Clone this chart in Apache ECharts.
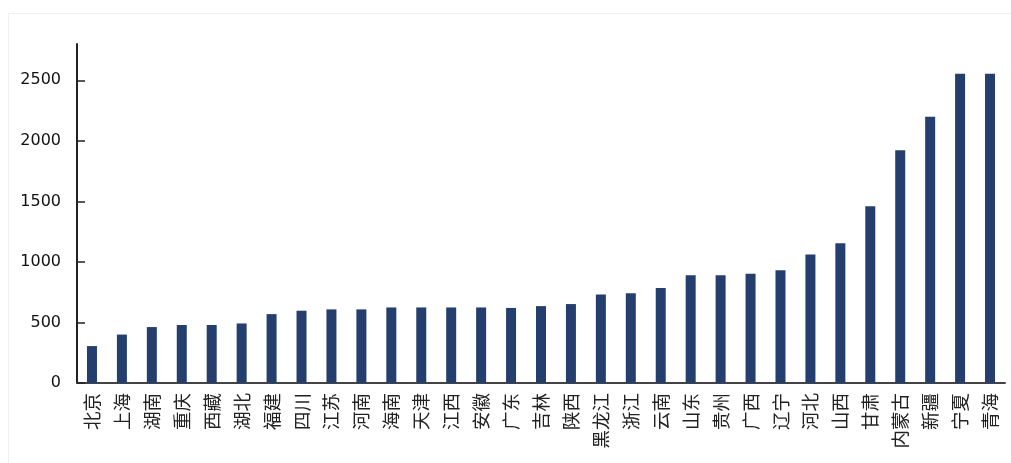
<!DOCTYPE html>
<html>
<head>
<meta charset="utf-8">
<script src="https://cdn.jsdelivr.net/npm/echarts@6/dist/echarts.min.js"></script>
<style>
html,body{margin:0;padding:0;background:#fff;}
#c{width:1011px;height:463px;}
</style>
</head>
<body>
<div id="c"></div>
<script>
const categories = ['北京','上海','湖南','重庆','西藏','湖北','福建','四川','江苏','河南','海南','天津','江西','安徽','广东','吉林','陕西','黑龙江','浙江','云南','山东','贵州','广西','辽宁','河北','山西','甘肃','内蒙古','新疆','宁夏','青海'];
const values = [305,400,462,479,479,492,569,597,608,608,624,624,624,624,620,635,652,731,742,784,891,891,902,932,1061,1155,1460,1922,2200,2555,2555];
const yTicks = [0,500,1000,1500,2000,2500];

const chart = echarts.init(document.getElementById('c'), null, {renderer:'canvas'});
chart.setOption({
  animation:false,
  backgroundColor:'#fff',
  graphic:[{type:'rect',shape:{x:8.5,y:13.5,width:1100,height:600},style:{fill:'none',stroke:'#f0f0f0',lineWidth:1},silent:true,z:-10}],
  grid:{left:77,right:6,top:44,bottom:80,containLabel:false},
  xAxis:{
    type:'category',
    data:categories,
    axisLine:{lineStyle:{color:'#444',width:2}},
    axisTick:{show:false},
    axisLabel:{rotate:90,interval:0,margin:10,fontSize:18.5,color:'#222',fontFamily:'Noto Sans CJK SC'}
  },
  yAxis:{
    type:'value',
    min:0,max:2800,interval:500,
    splitLine:{show:false},
    axisLine:{show:true,lineStyle:{color:'#222',width:2}},
    axisTick:{show:true,length:-8,lineStyle:{color:'#222',width:1.5},customValues:yTicks},
    axisLabel:{margin:16,fontSize:16,color:'#111',fontFamily:'DejaVu Sans',customValues:yTicks,formatter:function(v){return String(v);}}
  },
  series:[{
    type:'bar',
    data:values,
    barWidth:10,
    itemStyle:{color:'#243F6E'}
  }]
});
</script>
</body>
</html>
